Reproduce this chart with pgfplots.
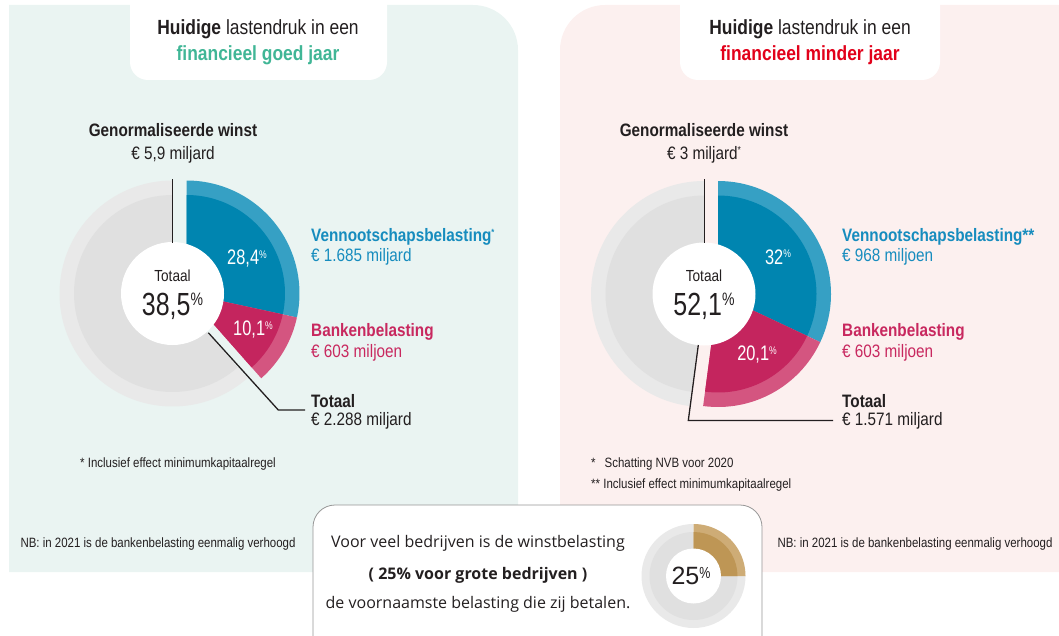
\documentclass[border=0pt]{standalone}
\usepackage{pgfplots}
\pgfplotsset{compat=1.18}
\usepackage{pgfplotstable}
\usepackage{fontspec}
\setmainfont{Liberation Sans}[FakeStretch=0.85]
\newfontfamily\plainf{Liberation Sans}
\newfontfamily\cond{Liberation Sans}[FakeStretch=0.78]
\newfontfamily\os{Open Sans}
\definecolor{bgL}{RGB}{234,244,242}
\definecolor{bgR}{RGB}{252,240,239}
\definecolor{txt}{RGB}{35,31,32}
\definecolor{tealT}{RGB}{64,182,150}
\definecolor{redT}{RGB}{226,0,26}
\definecolor{blueD}{RGB}{0,133,176}
\definecolor{blueL}{RGB}{54,160,196}
\definecolor{blueT}{RGB}{22,140,190}
\definecolor{pinkD}{RGB}{196,37,94}
\definecolor{pinkL}{RGB}{212,85,128}
\definecolor{pinkT}{RGB}{200,40,95}
\definecolor{greyL}{RGB}{233,233,233}
\definecolor{greyD}{RGB}{224,224,224}
\definecolor{goldD}{RGB}{190,150,85}
\definecolor{goldL}{RGB}{206,172,118}
\definecolor{boxline}{RGB}{150,150,150}

% shares of normalised profit (percent)
\pgfplotstableread{
pie    vpb   bank
goed   28.4  10.1
minder 32.0  20.1
klein  25.0  0.0
}\pietable
\pgfplotstablegetelem{0}{vpb}\of\pietable \let\vA\pgfplotsretval
\pgfplotstablegetelem{0}{bank}\of\pietable \let\bA\pgfplotsretval
\pgfplotstablegetelem{1}{vpb}\of\pietable \let\vB\pgfplotsretval
\pgfplotstablegetelem{1}{bank}\of\pietable \let\bB\pgfplotsretval
\pgfplotstablegetelem{2}{vpb}\of\pietable \let\vC\pgfplotsretval
\pgfmathsetmacro\aAone{90-3.6*\vA}
\pgfmathsetmacro\aAtwo{\aAone-3.6*\bA}
\pgfmathsetmacro\aBone{90-3.6*\vB}
\pgfmathsetmacro\aBtwo{\aBone-3.6*\bB}
\pgfmathsetmacro\aCone{90-3.6*\vC}

% sector: colour, cx, cy, radius, start, end
\newcommand\sector[6]{\fill[#1] (axis cs:#2,#3) -- ++(#5:#4) arc[start angle=#5, end angle=#6, radius=#4] -- cycle;}
\newcommand\pc[2]{\raisebox{#2}{\fontsize{#1}{#1}\selectfont\%}}

\begin{document}
\begin{tikzpicture}
\useasboundingbox (0,0) rectangle (1059bp,636bp);
\begin{axis}[at={(0,0)}, anchor=south west, scale only axis,
  width=1059bp, height=636bp, xmin=0, xmax=1059, ymin=0, ymax=636,
  y dir=reverse, hide axis, clip=false]
% panels
\fill[bgL] (axis cs:9,572) -- (axis cs:9,5) -- (axis cs:473,5) arc[start angle=90, end angle=0, radius=45bp] -- (axis cs:518,572) -- cycle;
\fill[bgR] (axis cs:1059,572) -- (axis cs:1059,5) -- (axis cs:605,5) arc[start angle=90, end angle=180, radius=45bp] -- (axis cs:560,572) -- cycle;
% title boxes
\fill[white] (axis cs:130,-2) -- (axis cs:130,62) arc[start angle=180, end angle=270, radius=18bp] -- (axis cs:369,80) arc[start angle=270, end angle=360, radius=18bp] -- (axis cs:387,-2) -- cycle;
\fill[white] (axis cs:680,-2) -- (axis cs:680,62) arc[start angle=180, end angle=270, radius=18bp] -- (axis cs:922,80) arc[start angle=270, end angle=360, radius=18bp] -- (axis cs:940,-2) -- cycle;
\node[font=\fontsize{20.5bp}{22bp}\selectfont, text=txt] at (axis cs:258,29) {\textbf{Huidige} lastendruk in een};
\node[font=\fontsize{20.5bp}{22bp}\selectfont\bfseries, text=tealT] at (axis cs:258,55) {financieel goed jaar};
\node[font=\fontsize{20.5bp}{22bp}\selectfont, text=txt] at (axis cs:810,29) {\textbf{Huidige} lastendruk in een};
\node[font=\fontsize{20.5bp}{22bp}\selectfont\bfseries, text=redT] at (axis cs:810,55) {financieel minder jaar};

% ---- left pie ----
\sector{greyL}{172.5}{293.5}{113bp}{\aAtwo}{-270}
\sector{greyD}{172.5}{293.5}{98.5bp}{\aAtwo}{-270}
\sector{blueL}{186.5}{293.5}{113bp}{90}{\aAone}
\sector{blueD}{186.5}{293.5}{98.5bp}{90}{\aAone}
\sector{pinkL}{186.5}{293.5}{113bp}{\aAone}{\aAtwo}
\sector{pinkD}{186.5}{293.5}{98.5bp}{\aAone}{\aAtwo}
\fill[white] (axis cs:172.5,293.5) circle[radius=51.5bp];
% ---- right pie ----
\sector{greyL}{704}{294}{113bp}{\aBtwo}{-270}
\sector{greyD}{704}{294}{98.5bp}{\aBtwo}{-270}
\sector{blueL}{718}{294}{113bp}{90}{\aBone}
\sector{blueD}{718}{294}{98.5bp}{90}{\aBone}
\sector{pinkL}{718}{294}{113bp}{\aBone}{\aBtwo}
\sector{pinkD}{718}{294}{98.5bp}{\aBone}{\aBtwo}
\fill[white] (axis cs:704,294) circle[radius=51.5bp];

% leader lines
\draw[txt, line width=1.3bp] (axis cs:172.7,179) -- (axis cs:172.7,243);
\draw[txt, line width=1.3bp] (axis cs:208.3,332.7) -- (axis cs:278.3,410) -- (axis cs:305,410);
\draw[txt, line width=1.3bp] (axis cs:704.6,179) -- (axis cs:704.6,243);
\draw[txt, line width=1.3bp] (axis cs:698.3,345) -- (axis cs:688.3,420.5) -- (axis cs:833,420.5);

% centre texts
\node[font=\fontsize{16bp}{18bp}\selectfont, text=txt] at (axis cs:172.5,276) {Totaal};
\node[font=\cond\fontsize{32bp}{34bp}\selectfont, text=txt] at (axis cs:172.5,306) {38,5\pc{18bp}{10bp}};
\node[font=\fontsize{16bp}{18bp}\selectfont, text=txt] at (axis cs:704,276) {Totaal};
\node[font=\cond\fontsize{32bp}{34bp}\selectfont, text=txt] at (axis cs:704,306) {52,1\pc{18bp}{10bp}};
% wedge texts
\node[font=\cond\fontsize{21bp}{22bp}\selectfont, text=white] at (axis cs:247,259) {28,4\pc{11bp}{6.5bp}};
\node[font=\cond\fontsize{21bp}{22bp}\selectfont, text=white] at (axis cs:253,330) {10,1\pc{11bp}{6.5bp}};
\node[font=\cond\fontsize{21bp}{22bp}\selectfont, text=white] at (axis cs:778,257) {32\pc{11bp}{6.5bp}};
\node[font=\cond\fontsize{21bp}{22bp}\selectfont, text=white] at (axis cs:757,355) {20,1\pc{11bp}{6.5bp}};

% headers
\node[font=\fontsize{18bp}{20bp}\selectfont\bfseries, text=txt] at (axis cs:173,130) {Genormaliseerde winst};
\node[font=\fontsize{18bp}{20bp}\selectfont, text=txt] at (axis cs:173,155) {€ 5,9 miljard};
\node[font=\fontsize{18bp}{20bp}\selectfont\bfseries, text=txt] at (axis cs:704,130) {Genormaliseerde winst};
\node[font=\fontsize{18bp}{20bp}\selectfont, text=txt] at (axis cs:704,155) {€ 3 miljard\raisebox{6bp}{\fontsize{10bp}{10bp}\selectfont *}};

% side labels
\begin{scope}[every node/.style={anchor=west, inner sep=0pt, font=\fontsize{18bp}{20bp}\selectfont}]
\node[text=blueT, font=\fontsize{18bp}{20bp}\selectfont\bfseries] at (axis cs:311,237) {Vennootschapsbelasting\raisebox{6bp}{\fontsize{9bp}{9bp}\selectfont *}};
\node[text=blueT] at (axis cs:311,257) {€ 1.685 miljard};
\node[text=pinkT, font=\fontsize{18bp}{20bp}\selectfont\bfseries] at (axis cs:311,332) {Bankenbelasting};
\node[text=pinkT] at (axis cs:311,353) {€ 603 miljoen};
\node[text=txt, font=\fontsize{18bp}{20bp}\selectfont\bfseries] at (axis cs:311,401) {Totaal};
\node[text=txt] at (axis cs:311,421) {€ 2.288 miljard};
\node[text=blueT, font=\fontsize{18bp}{20bp}\selectfont\bfseries] at (axis cs:842,237) {Vennootschapsbelasting**};
\node[text=blueT] at (axis cs:842,257) {€ 968 miljoen};
\node[text=pinkT, font=\fontsize{18bp}{20bp}\selectfont\bfseries] at (axis cs:842,332) {Bankenbelasting};
\node[text=pinkT] at (axis cs:842,353) {€ 603 miljoen};
\node[text=txt, font=\fontsize{18bp}{20bp}\selectfont\bfseries] at (axis cs:842,401) {Totaal};
\node[text=txt] at (axis cs:842,421) {€ 1.571 miljard};
\end{scope}

% footnotes
\begin{scope}[every node/.style={inner sep=0pt, text=txt, font=\fontsize{13.5bp}{15bp}\selectfont}]
\node at (axis cs:178,464) {* Inclusief effect minimumkapitaalregel};
\node at (axis cs:158,544) {NB: in 2021 is de bankenbelasting eenmalig verhoogd};
\node[anchor=west] at (axis cs:591,464) {*\hspace{9bp}Schatting NVB voor 2020};
\node[anchor=west] at (axis cs:591,485) {** Inclusief effect minimumkapitaalregel};
\node at (axis cs:915,544) {NB: in 2021 is de bankenbelasting eenmalig verhoogd};
\end{scope}

% bottom box
\draw[boxline, fill=white, line width=0.8bp, rounded corners=22bp] (axis cs:313,505) rectangle (axis cs:762,665);
\node[font=\os\fontsize{16bp}{18bp}\selectfont, text=txt] at (axis cs:478,543) {Voor veel bedrijven is de winstbelasting};
\node[font=\os\bfseries\fontsize{16bp}{18bp}\selectfont, text=txt] at (axis cs:478,575) {( 25\% voor grote bedrijven )};
\node[font=\os\fontsize{16bp}{18bp}\selectfont, text=txt] at (axis cs:478,604) {de voornaamste belasting die zij betalen.};
% small donut
\sector{greyL}{693.5}{576}{52bp}{\aCone}{-270}
\sector{greyD}{693.5}{576}{44bp}{\aCone}{-270}
\sector{goldL}{693.5}{576}{52bp}{90}{\aCone}
\sector{goldD}{693.5}{576}{44bp}{90}{\aCone}
\fill[white] (axis cs:693.5,576) circle[radius=27.5bp];
\node[font=\plainf\fontsize{25bp}{27bp}\selectfont, text=txt] at (axis cs:691,576) {25{\cond\pc{16bp}{6.5bp}}};
\end{axis}
\end{tikzpicture}
\end{document}
